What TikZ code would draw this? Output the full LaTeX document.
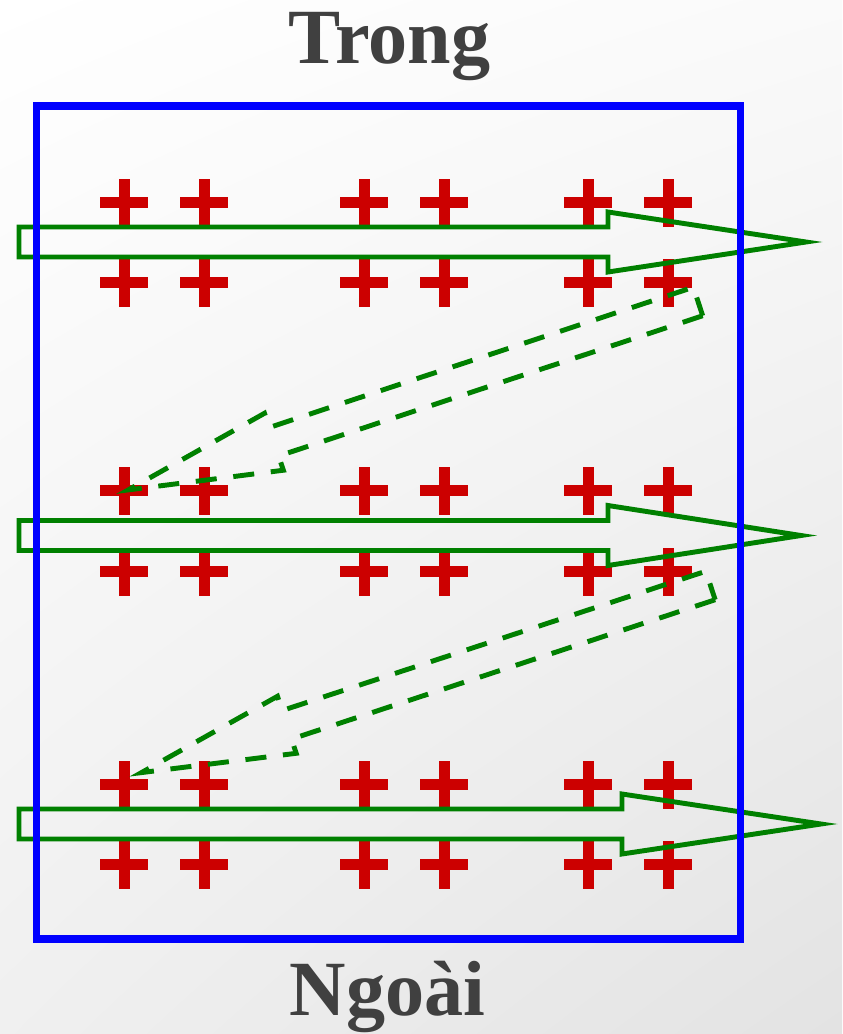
\documentclass[tikz,border=0pt]{standalone}
\usepackage{fontspec}
\setmainfont{Liberation Serif}
\usetikzlibrary{shadings}
\definecolor{arrgreen}{RGB}{0,128,0}
\definecolor{plusred}{RGB}{204,0,0}
\definecolor{boxblue}{RGB}{0,0,255}
\definecolor{txtgrey}{RGB}{64,64,64}
\tikzset{
  plusbar/.style={fill=plusred},
  solidarrow/.style={draw=arrgreen, line width=2.8pt, line join=miter},
  dasharrow/.style={draw=arrgreen, line width=2.8pt, dash pattern=on 12pt off 9.5pt, line join=miter},
  bluebox/.style={draw=boxblue, line width=4pt},
  label/.style={text=txtgrey, font=\fontsize{44.5}{50}\selectfont\bfseries, inner sep=0pt, anchor=base},
  pics/plusmark/.style={code={
    \fill[plusbar] (-24,-5.5) rectangle (24,5.5);
    \fill[plusbar] (-5.5,-24) rectangle (5.5,24);
  }}
}
\begin{document}
\begin{tikzpicture}[x=0.02cm, y=-0.02cm]
\useasboundingbox (0,0) rectangle (842,1034);
\shade[upper left=white, upper right=black!2, lower left=black!6, lower right=black!11] (0,0) rectangle (842,1034);
% labels
\node[label] (trong) at (389.5,64) {Trong};
\node[label] (ngoai) at (387.5,1015) {Ngoài};
% plus signs
\foreach \yy in {202.5,282.5,490.5,571.5,784.5,864.5}{
  \foreach \xx in {124,204,364,444,588,668}{
    \pic at (\xx,\yy) {plusmark};
  }
}
% solid arrows
\draw[solidarrow] (19,227) -- (608,227) -- (608,212) -- (806,242) -- (608,272) -- (608,257) -- (19,257) -- cycle;
\draw[solidarrow] (19,520.5) -- (608,520.5) -- (608,505.5) -- (801,535.5) -- (608,565.5) -- (608,550.5) -- (19,550.5) -- cycle;
\draw[solidarrow] (19,809) -- (622,809) -- (622,794) -- (821,824) -- (622,854) -- (622,839) -- (19,839) -- cycle;
% dashed arrows
\begin{scope}[shift={(698,301.5)}, rotate=198.3]
\draw[dasharrow] (0,-15) -- (446.7,-15) -- (446.7,-30) -- (600,0) -- (446.7,30) -- (446.7,15) -- (0,15) -- cycle;
\end{scope}
\begin{scope}[shift={(710.5,585.5)}, rotate=198.2]
\draw[dasharrow] (0,-15) -- (446,-15) -- (446,-30) -- (599,0) -- (446,30) -- (446,15) -- (0,15) -- cycle;
\end{scope}
% blue box
\draw[bluebox] (36.5,106) rectangle (740.5,939);
\end{tikzpicture}
\end{document}
